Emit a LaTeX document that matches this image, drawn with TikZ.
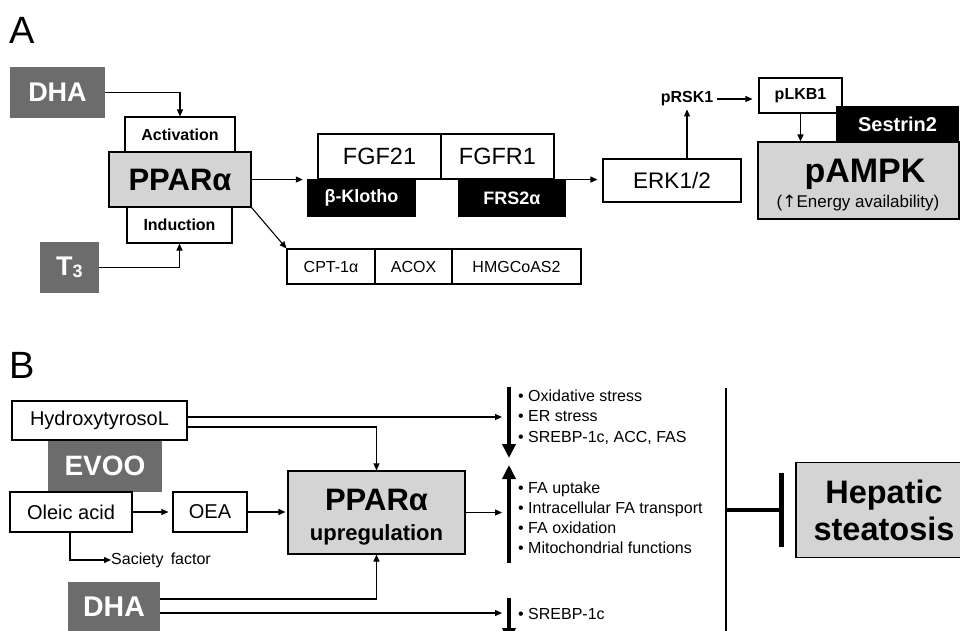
\documentclass[tikz,border=0pt]{standalone}
\usepackage{fontspec}
\setmainfont{Liberation Sans}
\newfontfamily\djv{DejaVu Sans}
\usetikzlibrary{arrows.meta,calc}
\definecolor{dgray}{RGB}{108,108,108}
\definecolor{lgray}{RGB}{212,212,212}
\newcommand{\fsz}[2]{\fontsize{#1}{#2}\selectfont}
\begin{document}
\begin{tikzpicture}[x=1pt,y=-1pt,
  wbox/.style={draw, line width=1.1pt, fill=white, inner sep=0pt},
  gbox/.style={draw, line width=1.1pt, fill=lgray, inner sep=0pt},
  dbox/.style={fill=dgray, text=white, inner sep=0pt, font=\bfseries},
  kbox/.style={fill=black, text=white, inner sep=0pt, font=\bfseries},
  txt/.style={inner sep=0pt},
  arr/.style={-{Triangle[length=7pt,width=6pt]}, line width=1.1pt},
  bigarr/.style={-{Triangle[length=14pt,width=13pt]}, line width=4.5pt},
  ]
\useasboundingbox (0,0) rectangle (960,630);
\fill[white] (0,0) rectangle (960,630);

% ---------- Panel A ----------
\node[txt, anchor=base west, font=\fsz{38}{40}] (labA) at (9,43) {A};

\node[dbox, minimum width=95pt, minimum height=51pt, font=\fsz{27}{28}\bfseries] (dhaA) at (57.5,92.5) {DHA};
\node[wbox, minimum width=110pt, minimum height=36pt, font=\fsz{16}{18}\bfseries] (act) at (180,135) {Activation};
\node[wbox, minimum width=105pt, minimum height=36pt, font=\fsz{16}{18}\bfseries] (ind) at (179.5,225) {Induction};
\node[gbox, minimum width=142pt, minimum height=55pt, font=\fsz{31}{32}\bfseries] (ppA) at (180,179.5) {PPARα};
\node[dbox, minimum width=59pt, minimum height=51pt, font=\fsz{27}{28}\bfseries] (t3) at (69.5,267.5) {T\raisebox{-2pt}{\fsz{18}{18}3}};

\node[wbox, minimum width=123pt, minimum height=45pt, font=\fsz{23.5}{25}] (fgf21) at (379.5,156.5) {FGF21};
\node[wbox, minimum width=113pt, minimum height=45pt, font=\fsz{23.5}{25}] (fgfr1) at (497.5,156.5) {FGFR1};
\node[kbox, minimum width=109pt, minimum height=38pt, font=\fsz{18}{20}\bfseries] (klotho) at (361.5,198) {β-Klotho};
\node[kbox, minimum width=108pt, minimum height=38pt, font=\fsz{18}{20}\bfseries] (frs) at (512,198) {FRS2α};

\node[wbox, minimum width=88pt, minimum height=35pt, font=\fsz{16}{18}] (cpt) at (331,266.5) {CPT-1α};
\node[wbox, minimum width=77pt, minimum height=35pt, font=\fsz{16}{18}] (acox) at (413.5,266.5) {ACOX};
\node[wbox, minimum width=129pt, minimum height=35pt, font=\fsz{16}{18}] (hmg) at (516.5,266.5) {HMGCoAS2};

\node[wbox, minimum width=138pt, minimum height=43pt, font=\fsz{22.5}{24}] (erk) at (672,180.5) {ERK1/2};
\node[txt, font=\fsz{16}{18}\bfseries] (prsk) at (687,99) {pRSK1};
\node[wbox, minimum width=83pt, minimum height=35pt, font=\fsz{16}{18}\bfseries] (plkb) at (800.5,95.5) {pLKB1};
\node[gbox, minimum width=201pt, minimum height=77pt] (pampk) at (858.5,180.5) {};
\node[kbox, minimum width=123pt, minimum height=37pt, font=\fsz{20}{22}\bfseries] (sest) at (897.5,124.5) {Sestrin2};
\node[txt, anchor=base, font=\fsz{34}{36}\bfseries] (pampkT) at (865,182) {pAMPK};
\node[txt, anchor=base, font=\fsz{17}{19}] (energy) at (858,207) {({\djv ↑}Energy availability)};

\draw[arr] (dhaA.east) -| (act.north);
\draw[arr] (t3.east) -| (ind.south);
\draw[arr, shorten >=4pt] (ppA.east) -- (ppA.east -| klotho.west);
\draw[arr] (ppA.south east) -- (cpt.north west);
\draw[arr, shorten >=5pt] (fgfr1.south east) -- (fgfr1.south east -| erk.west);
\draw[arr, shorten >=3pt] (erk.north -| prsk.south) -- (prsk.south);
\draw[arr, shorten <=4pt, shorten >=6pt] (prsk.east) -- (prsk.east -| plkb.west);
\draw[arr] (plkb.south) -- (plkb.south |- pampk.north);

% ---------- Panel B ----------
\node[txt, anchor=base west, font=\fsz{38}{40}] (labB) at (9,378) {B};

\node[dbox, minimum width=114pt, minimum height=52pt, font=\fsz{28}{30}\bfseries] (evoo) at (105,466) {EVOO};
\node[wbox, minimum width=175pt, minimum height=39pt, font=\fsz{20}{22}] (hyd) at (99.5,420.5) {HydroxytyrosoL};
\node[wbox, minimum width=122pt, minimum height=40pt, font=\fsz{20}{22}] (oleic) at (71,512) {Oleic acid};
\node[wbox, minimum width=74pt, minimum height=40pt, font=\fsz{20}{22}] (oea) at (210,512) {OEA};
\node[gbox, minimum width=177pt, minimum height=83pt] (ppB) at (376.5,512.5) {};
\node[txt, anchor=base, font=\fsz{31}{32}\bfseries] (ppBT) at (376.5,510) {PPARα};
\node[txt, anchor=base, font=\fsz{22}{24}\bfseries] (ppBU) at (376.5,540) {upregulation};
\node[txt, anchor=west, font=\fsz{16}{18}] (sac) at (111,560) {Saciety\, factor};
\node[dbox, minimum width=92pt, minimum height=50pt, font=\fsz{28.5}{30}\bfseries] (dhaB) at (114,607) {DHA};

\coordinate (d1a) at (509,387); \coordinate (d1b) at (509,458);
\coordinate (u2a) at (509,563); \coordinate (u2b) at (509,465);
\coordinate (d3a) at (509,598); \coordinate (d3b) at (509,642);
\coordinate (t1) at (502,417); \coordinate (t2) at (502,512.5); \coordinate (t3c) at (502,613);

\draw[bigarr] (d1a) -- (d1b);
\draw[bigarr] (u2a) -- (u2b);
\draw[bigarr] (d3a) -- (d3b);

\node[txt, anchor=west, align=left, font=\fsz{16}{20.5}] (list1) at (518,417)
  {• Oxidative stress\\ • ER stress\\ • SREBP-1c, ACC, FAS};
\node[txt, anchor=west, align=left, font=\fsz{16}{20}] (list2) at (518,518)
  {• FA uptake\\ • Intracellular FA transport\\ • FA oxidation\\ • Mitochondrial functions};
\node[txt, anchor=west, align=left, font=\fsz{16}{20}] (list3) at (518,614) {• SREBP-1c};

\draw[arr] ([yshift=3.5pt]hyd.east) -- (t1);
\draw[arr] ([yshift=-6.5pt]hyd.east) -| (ppB.north);
\draw[arr, shorten >=4pt] (oleic.east) -- (oea.west);
\draw[arr, shorten >=2pt] (oea.east) -- (oea.east -| ppB.west);
\draw[arr] (oleic.south -| 70,0) |- (sac.west);
\draw[arr] ([yshift=8pt]dhaB.east) -| (ppB.south);
\draw[arr] ([yshift=-6pt]dhaB.east) -- (t3c);
\draw[arr] (ppB.east) -- (t2);

% separator and inhibition
\coordinate (vtop) at (726,388); \coordinate (vbot) at (726,632);
\draw[line width=1.3pt] (vtop) -- (vbot);
\node[gbox, minimum width=176pt, minimum height=95pt, align=center, font=\fsz{32.5}{37}\bfseries] (hep) at (884,510) {Hepatic\\steatosis};
\coordinate (vl) at (726,510);
\coordinate (bar) at ($(hep.west)+(-14,0)$);
\draw[line width=4.5pt] (vl) -- (bar);
\draw[line width=4.5pt] ([yshift=37pt]bar) -- ([yshift=-37pt]bar);
\end{tikzpicture}
\end{document}
